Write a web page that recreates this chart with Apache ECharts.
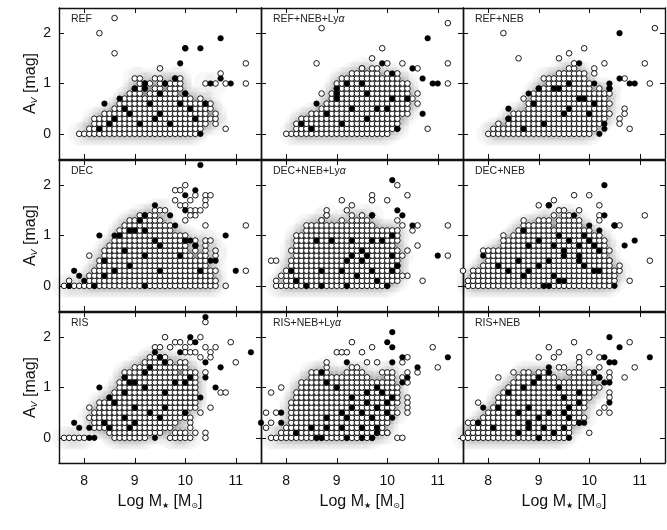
<!DOCTYPE html>
<html>
<head>
<meta charset="utf-8">
<script src="https://cdn.jsdelivr.net/npm/echarts@6/dist/echarts.min.js"></script>
<style>
  html, body { margin: 0; padding: 0; background: #fff; }
  #chartmain { width: 667px; height: 530px; }
</style>
</head>
<body>
<div id="chartmain"></div>
<script>
// tick labels
var massTicks = [8, 9, 10, 11];
var avTicks = [0, 1, 2];
var panelNames = ['REF', 'REF+NEB+Ly{a|α}', 'REF+NEB', 'DEC', 'DEC+NEB+Ly{a|α}', 'DEC+NEB', 'RIS', 'RIS+NEB+Ly{a|α}', 'RIS+NEB'];

// values are in tenths: mass*10, Av*10
// dense rows: first value = Av, then the masses on that row (open circles)
var refRows = [
  [0,79,80,81,82,83,84,85,86,87,88,89,90,91,92,93,94,95,96,97,98,99,100,101,102],
  [1,81,82,83,84,85,86,87,88,89,90,91,92,93,94,95,96,97,98,99,100,101,102,103],
  [2,82,83,84,85,86,87,88,89,90,91,92,93,94,95,96,97,98,99,100,101,102,103,104,106],
  [3,82,83,84,85,86,87,88,89,90,91,92,93,94,95,96,97,98,99,100,101,102,103,104,105,106],
  [4,84,85,86,87,88,89,90,91,92,93,94,95,96,97,98,99,100,101,102,103,104,106],
  [5,86,87,88,89,90,91,92,93,94,95,96,97,98,99,100,101,102,103,104,105],
  [6,87,88,89,90,91,92,93,94,95,96,97,98,99,100,101,102,103,104,105],
  [7,88,89,90,91,92,93,94,95,96,97,98,99,100,101,103],
  [8,89,90,91,93,94,95,96,97,98,100],
  [9,90,91,92,94,95,97,98,99],
  [10,91,92,93,95,96,97,98,99,104,106],
  [11,90,91,94,95,98,99]
];
var refOpen = [[86,23],[83,20],[86,16],[100,17],[95,13],[107,12],[112,14],[112,10],[108,10],[108,1]];
var refFilled = [[84,6],[100,17],[103,17],[107,19],[99,14],[83,1],[85,2],[86,3],[88,5],[90,9],[92,10],[93,6],[94,3],[95,4],[96,10],
  [98,11],[100,8],[101,5],[103,0],[104,6],[105,10],[107,11],[109,10],[97,2],[91,2],[89,4],[102,3],[99,6],[87,7],[92,9],[95,8]];

var refLyaRows = [
  [0,81,82,83,84,85,86,87,88,89,90,91,92,93,94,95,96,97,98,99,100],
  [1,82,83,84,85,86,87,88,89,90,91,92,93,94,95,96,97,98,99,100,101,102],
  [2,82,83,84,85,86,87,88,89,90,91,92,93,94,95,96,97,98,99,100,101,102],
  [3,83,84,85,86,87,88,89,90,91,92,93,94,95,96,97,98,99,100,101,102],
  [4,85,86,87,88,89,90,91,92,93,94,95,96,97,98,99,100,101,102,103,104],
  [5,87,88,89,90,91,92,93,94,95,96,97,98,99,100,101,102,103,104],
  [6,88,89,90,91,92,93,94,95,96,97,98,99,100,101,102,103,104],
  [7,89,90,91,92,93,94,95,96,97,98,99,100,101,102,103,104,105],
  [8,89,90,91,92,93,94,95,96,97,98,99,100,101,102,103,104],
  [9,90,91,92,93,94,95,96,97,98,99,100,101,102,103,104],
  [10,90,91,92,93,94,95,96,97,98,99,100,101,102,103,104],
  [11,91,92,93,94,95,96,97,98,99,100,101,102],
  [12,93,94,95,96,97,98,100,102],
  [13,95,97]
];
var refLyaOpen = [[87,21],[112,22],[99,17],[97,15],[86,14],[100,14],[103,14],[112,14],[95,13],[98,13],[106,13],[112,10],
  [87,8],[106,8],[106,6],[108,1],[80,0]];
var refLyaFilled = [[108,19],[99,14],[105,13],[107,11],[109,10],[110,10],[90,9],[90,8],[86,6],[88,4],[85,1],[83,2],[90,7],[95,10],
  [96,8],[101,7],[104,7],[100,5],[98,5],[93,5],[96,3],[102,1],[91,2],[101,12],[107,4],[92,10]];

var refNebRows = [
  [0,80,81,82,83,84,85,86,87,88,89,90,91,92,93,94,95,96,97,98,99,100],
  [1,81,82,83,84,85,86,87,88,89,90,91,92,93,94,95,96,97,98,99,100,101],
  [2,84,85,86,87,88,89,90,91,92,93,94,95,96,97,98,99,100,101,102],
  [3,84,85,86,87,88,89,90,91,92,93,94,95,96,97,98,99,100,101,102,103],
  [4,85,86,87,88,89,90,91,92,93,94,95,96,97,98,99,100,101,102,103,104],
  [5,88,89,90,91,92,93,94,95,96,97,98,99,100,101,102,103],
  [6,88,89,90,91,92,93,94,95,96,97,98,99,100,101,102,103,104],
  [7,89,90,91,92,93,94,95,96,97,98,99,100,101,102,103],
  [8,89,90,91,92,93,94,95,96,97,98,99,100,101,102,103,104],
  [9,90,91,92,93,94,95,96,97,98,99,100,102,104],
  [10,92,93,94,95,96,97,98,99,100],
  [11,91,92,93,94,95,96,97,98,99],
  [12,94,95,96,97,98,99],
  [13,96,97]
];
var refNebOpen = [[83,20],[113,21],[86,15],[96,16],[99,17],[94,15],[97,14],[103,14],[111,14],[101,13],[101,12],[107,11],[112,10],
  [87,7],[107,5],[107,4],[106,3],[106,2],[108,1],[82,2]];
var refNebFilled = [[106,20],[98,14],[106,11],[108,10],[109,10],[101,10],[104,10],[84,5],[90,9],[93,9],[94,9],[96,5],[89,6],[98,7],
  [99,7],[101,6],[104,9],[103,2],[102,0],[103,1],[91,2],[87,1],[95,4],[100,4],[84,3],[88,8],[96,10]];

var decRows = [
  [0,76,77,78,79,80,81,82,83,84,85,86,87,88,89,90,91,92,93,94,95,96,97,98,99,100,101,102,103,104,105,106],
  [1,81,82,83,84,85,86,87,88,89,90,91,92,93,94,95,96,97,98,99,100,101,102,103,104,105,106],
  [2,81,82,83,84,85,86,87,88,89,90,91,92,93,94,95,96,97,98,99,100,101,102,103,104,105],
  [3,82,83,84,85,86,87,88,89,90,91,92,93,94,95,96,97,98,99,100,101,102,103,104,105,106],
  [4,83,84,85,86,87,88,89,90,91,92,93,94,95,96,97,98,99,100,101,102,103,104],
  [5,83,84,85,86,87,88,89,90,91,92,93,94,95,96,97,98,99,100,101,102,103,104],
  [6,84,85,86,87,88,89,90,91,92,93,94,95,96,97,98,99,100,101,103,104,106],
  [7,84,85,86,87,88,89,90,91,92,93,94,95,96,97,98,99,100,102,104,106],
  [8,85,86,87,88,89,90,91,92,93,94,95,96,97,98,99,100,102,104],
  [9,86,87,88,89,90,91,92,93,94,95,96,97,98,99,100,102,104,105],
  [10,87,88,89,90,91,92,93,94,95,96,97,98,99,100],
  [11,87,88,89,90,91,92,93,94,95,96,97],
  [12,88,89,90,91,92,93,94,95,96,97],
  [13,89,90,91,92,93,94,95],
  [14,91,92,93,94],
  [15,94,95,96]
];
var decOpen = [[100,20],[98,19],[99,19],[102,18],[104,18],[105,18],[98,17],[101,17],[104,17],[99,16],[100,16],[104,16],[102,15],
  [101,15],[103,15],[102,14],[101,14],[100,13],[104,12],[112,12],[112,3],[81,6],[77,1],[108,0]];
var decFilled = [[103,24],[102,19],[100,18],[94,16],[100,15],[108,10],[110,3],[83,10],[78,3],[79,2],[92,14],[91,13],[89,11],[90,11],
  [92,11],[86,10],[87,10],[94,9],[95,8],[88,7],[92,6],[84,5],[89,4],[86,3],[95,3],[84,2],[92,0],[97,14],[98,12],[100,9],[101,9],
  [102,8],[99,6],[105,5],[106,5],[103,3],[80,1],[82,0],[77,0]];

var decLyaRows = [
  [0,78,79,80,81,82,83,84,85,86,87,88,89,90,91,92,93,94,95,96,97,98,99,100],
  [1,80,81,82,83,84,85,86,87,88,89,90,91,92,93,94,95,96,97,98,99,100,101,102],
  [2,80,81,82,83,84,85,86,87,88,89,90,91,92,93,94,95,96,97,98,99,100,101,102],
  [3,80,81,82,83,84,85,86,87,88,89,90,91,92,93,94,95,96,97,98,99,100,101,102],
  [4,81,82,83,84,85,86,87,88,89,90,91,92,93,94,95,96,97,98,99,100,101,102],
  [5,81,82,83,84,85,86,87,88,89,90,91,92,93,94,95,96,97,98,99,100,101,102],
  [6,82,83,84,85,86,87,88,89,90,91,92,93,94,95,96,97,98,99,100,101,102,103],
  [7,81,82,83,84,85,86,87,88,89,90,91,92,93,94,95,96,97,98,99,100,101,102],
  [8,82,83,84,85,86,87,88,89,90,91,92,93,94,95,96,97,98,99,100,101],
  [9,82,83,84,85,86,87,88,89,90,91,92,93,94,95,96,97,98,99,100,101,102],
  [10,82,83,84,85,86,87,88,89,90,91,92,93,94,95,96,97,98,99,100,101,102],
  [11,84,85,86,87,88,89,90,91,92,93,94,95,96,97,98,99,100,101,102],
  [12,84,85,86,87,88,89,90,91,92,93,94,95,96,97],
  [13,87,91,93,94,95,96],
  [14,88,93,95,97]
];
var decLyaOpen = [[102,20],[104,18],[97,18],[97,17],[100,17],[91,17],[93,16],[92,15],[88,15],[88,14],[87,13],[102,13],[103,12],
  [106,12],[105,11],[112,12],[106,8],[112,6],[104,7],[77,5],[78,5],[79,2],[78,1],[107,1],[104,2],[103,2],[102,4]];
var decLyaFilled = [[101,21],[102,15],[97,14],[103,14],[105,12],[110,6],[86,9],[89,9],[93,9],[97,9],[99,9],[101,10],[95,7],[96,6],
  [93,6],[92,5],[95,5],[101,6],[101,3],[81,3],[87,3],[91,3],[97,3],[84,0],[87,0],[92,0],[100,0],[94,2],[98,1],[82,1],[102,4]];

var decNebRows = [
  [0,76,77,78,79,80,81,82,83,84,85,86,87,88,89,90,91,92,93,94,95,96,97,98,99,100,101,102,103,104],
  [1,76,77,78,79,80,81,82,83,84,85,86,87,88,89,90,91,92,93,94,95,96,97,98,99,100,101,102,103,104,105],
  [2,77,78,79,80,81,82,83,84,85,86,87,88,89,90,91,92,93,94,95,96,97,98,99,100,101,102,103,104,105],
  [3,78,79,80,81,82,83,84,85,86,87,88,89,90,91,92,93,94,95,96,97,98,99,100,101,102,103,104,105,106],
  [4,79,80,81,82,83,84,85,86,87,88,89,90,91,92,93,94,95,96,97,98,99,100,101,102,103,104],
  [5,80,81,82,83,84,85,86,87,88,89,90,91,92,93,94,95,96,97,98,99,100,101,102,103,104],
  [6,80,81,82,83,84,85,86,87,88,89,90,91,92,93,94,95,96,97,98,99,100,101,102,103],
  [7,81,82,83,84,85,86,87,88,89,90,91,92,93,94,95,96,97,98,99,100,101,102,103,104],
  [8,83,84,85,86,87,88,89,90,91,92,93,94,95,96,97,98,99,100,101,102,103],
  [9,84,85,86,87,88,89,90,91,92,93,94,95,96,97,98,99,100,101,102,103],
  [10,85,86,87,88,89,90,91,92,93,94,95,96,97,98,99,100,101,102],
  [11,86,87,88,89,90,91,92,93,94,95,96,97,98,99,100],
  [12,87,88,89,90,91,92,94,95,96,97,98],
  [13,90,91,92,94,95,96,97,98],
  [14,93,95,96]
];
var decNebOpen = [[97,18],[100,18],[93,17],[90,16],[92,16],[102,16],[94,15],[95,15],[98,15],[102,14],[102,13],[87,13],[111,14],
  [105,12],[106,12],[83,10],[83,9],[112,5],[104,5],[106,4],[108,1],[75,3],[77,3],[77,2],[79,7],[80,7]];
var decNebFilled = [[103,20],[92,16],[97,14],[103,14],[100,12],[105,12],[102,11],[107,8],[109,9],[105,0],[79,6],[93,2],[94,1],[95,1],
  [91,0],[92,0],[87,2],[88,3],[84,3],[82,4],[86,5],[90,4],[92,5],[95,6],[98,5],[98,6],[99,4],[101,3],[102,3],[93,8],[95,7],[88,8],
  [87,11],[90,9],[94,10],[96,9],[100,9],[101,8],[102,7],[98,8],[99,10]];

var risRows = [
  [0,76,77,78,79,80,86,87,88,89,90,91,92,97,98,99,100,101],
  [1,85,86,87,88,89,90,91,92,93,94,95,98,99,100],
  [2,82,83,84,85,86,87,88,89,90,91,92,93,94,95,96,97],
  [3,82,83,84,85,86,87,88,89,90,91,92,93,94,95,96,97,98],
  [4,81,82,83,84,85,86,87,88,89,90,91,92,93,94,95,96,97,98,99,100],
  [5,82,83,84,85,86,87,88,89,90,91,92,93,94,95,96,97,98,99,100],
  [6,83,84,85,86,87,88,89,90,91,92,93,94,95,96,97,98,99,100,101,102],
  [7,83,84,85,86,87,88,89,90,91,92,93,94,95,96,97,98,99,100,101,102],
  [8,85,86,87,88,89,90,91,92,93,94,95,96,97,98,99,100,101,102],
  [9,86,87,88,89,90,91,92,93,94,95,96,97,98,99,100,101,102],
  [10,87,88,89,90,91,92,93,94,95,96,97,98,99,100,101,102],
  [11,87,88,89,90,91,92,93,94,95,96,97,98,99,100,101,102],
  [12,88,89,90,91,92,93,94,95,96,97,98,99,100,101,102],
  [13,88,89,90,91,92,93,94,95,96,97,98,100,101,102],
  [14,90,91,92,93,94,95,96,97,98,99,100],
  [15,92,93,94,95,96,97,99,100],
  [16,93,94,95,96]
];
var risOpen = [[104,23],[96,20],[103,20],[98,19],[99,19],[101,19],[94,18],[95,18],[97,18],[100,18],[104,18],[106,18],[109,19],
  [100,17],[101,17],[102,17],[105,17],[103,16],[105,16],[110,15],[104,13],[107,9],[108,9],[105,6],[103,5],[101,4],[101,3],
  [101,2],[102,1],[104,1],[104,0],[81,6]];
var risFilled = [[104,24],[101,20],[102,19],[113,17],[107,14],[94,17],[99,17],[104,15],[104,12],[106,10],[88,12],[89,11],[90,11],
  [92,13],[93,14],[95,16],[96,15],[92,10],[96,9],[88,9],[85,8],[86,7],[90,6],[93,5],[88,4],[90,3],[84,3],[85,2],[89,2],[94,0],
  [96,6],[98,11],[100,11],[101,12],[103,8],[100,5],[95,4],[83,10],[78,3],[79,2],[81,2],[81,0],[82,0]];

var risLyaRows = [
  [0,77,78,79,80,81,82,83,84,85,86,87,88,89,90,91,92,93,94,95,96,97],
  [1,79,80,81,82,83,84,85,86,87,88,89,90,91,92,93,94,95,96,97,98,99,100],
  [2,80,81,82,83,84,85,86,87,88,89,90,91,92,93,94,95,96,97,98,99],
  [3,81,82,83,84,85,86,87,88,89,90,91,92,93,94,95,96,97,98,99,100],
  [4,81,82,83,84,85,86,87,88,89,90,91,92,93,94,95,96,97,98,99,100],
  [5,81,82,83,84,85,86,87,88,89,90,91,92,93,94,95,96,97,98,99,100,101,102],
  [6,81,82,83,84,85,86,87,88,89,90,91,92,93,94,95,96,97,98,99,100,101],
  [7,81,82,83,84,85,86,87,88,89,90,91,92,93,94,95,96,97,98,99,100,101,102],
  [8,82,83,84,85,86,87,88,89,90,91,92,93,94,95,96,97,98,99,100,101,102],
  [9,82,83,84,85,86,87,88,89,90,91,92,93,94,95,96,97,98,99,100,101,102],
  [10,83,84,85,86,87,88,89,90,91,92,93,94,95,96,97,98,99,100,101,102],
  [11,83,84,85,86,87,88,89,90,91,92,93,94,95,96,97,98,99,100,101],
  [12,85,86,87,88,89,90,91,92,93,94,95,96,100,101],
  [13,85,86,87,88,92,93,94,95,99,100,101],
  [14,88]
];
var risLyaOpen = [[97,18],[93,19],[109,18],[110,14],[106,13],[104,16],[103,15],[90,17],[91,17],[92,17],[95,17],[96,15],[98,15],
  [93,14],[94,14],[88,15],[104,13],[103,12],[104,11],[77,9],[79,10],[76,5],[78,5],[77,3],[76,2],[104,8],[104,6],[104,7],
  [104,5],[102,0],[103,0],[100,1]];
var risLyaFilled = [[101,21],[100,19],[101,18],[112,16],[106,14],[103,16],[101,15],[92,15],[104,12],[103,11],[87,13],[88,11],[90,10],
  [93,8],[96,9],[98,10],[99,9],[101,8],[100,7],[96,7],[93,6],[98,6],[91,5],[95,5],[100,5],[88,4],[92,4],[97,4],[101,4],[85,2],
  [88,2],[91,2],[95,2],[98,2],[82,1],[86,0],[87,0],[92,0],[95,0],[98,1],[97,0],[75,3],[79,3],[79,5]];

var risNebRows = [
  [0,75,76,77,78,79,80,81,82,83,84,85,86,87,88,89,90,91,92,93,94,95],
  [1,76,77,78,79,80,81,82,83,84,85,86,87,88,89,90,91,92,93,94,95,96],
  [2,77,78,79,80,81,82,83,84,85,86,87,88,89,90,91,92,93,94,95,96],
  [3,78,79,80,81,82,83,84,85,86,87,88,89,90,91,92,93,94,95,96,97,98],
  [4,79,80,81,82,83,84,85,86,87,88,89,90,91,92,93,94,95,96,97,98,99],
  [5,80,81,82,83,84,85,86,87,88,89,90,91,92,93,94,95,96,97,98],
  [6,81,82,83,84,85,86,87,88,89,90,91,92,93,94,95,96,97,98,99],
  [7,82,83,84,85,86,87,88,89,90,91,92,93,94,95,96,97,98,99],
  [8,82,83,84,85,86,87,88,89,90,91,92,93,94,95,96,97,98,99,100],
  [9,83,84,85,86,87,88,89,90,91,92,93,94,95,96,97,98,99,100,101],
  [10,84,85,86,87,88,89,90,91,92,93,94,95,96,97,98,99,100,101,102],
  [11,85,86,87,88,89,90,91,92,93,94,95,96,97,98,99,100],
  [12,86,87,88,89,90,91,92,93,97,98,99,100,101,102],
  [13,87,88,90,91,92,96,97,98]
];
var risNebOpen = [[108,19],[97,19],[92,18],[100,17],[94,17],[93,16],[90,16],[98,16],[98,15],[98,14],[95,14],[94,14],[102,16],
  [102,14],[109,14],[107,12],[85,13],[82,12],[100,13],[101,12],[104,13],[104,12],[104,9],[104,8],[103,6],[104,5],[102,5],
  [78,7],[76,3],[77,3],[100,1]];
var risNebFilled = [[104,20],[106,18],[112,16],[103,16],[104,15],[105,15],[101,13],[102,12],[104,11],[103,11],[104,7],[84,9],[87,10],
  [89,11],[90,12],[92,14],[92,13],[94,10],[98,9],[95,8],[98,7],[96,6],[92,5],[96,4],[90,4],[88,3],[88,2],[91,2],[95,2],[86,1],
  [90,0],[93,1],[98,3],[99,3],[82,6],[88,6],[86,5],[95,5],[81,2],[78,3],[79,6],[96,0]];

var panelRows = [refRows, refLyaRows, refNebRows, decRows, decLyaRows, decNebRows, risRows, risLyaRows, risNebRows];
var panelOpen = [refOpen, refLyaOpen, refNebOpen, decOpen, decLyaOpen, decNebOpen, risOpen, risLyaOpen, risNebOpen];
var panelFilled = [refFilled, refLyaFilled, refNebFilled, decFilled, decLyaFilled, decNebFilled, risFilled, risLyaFilled, risNebFilled];

function rowsToPoints(rows) {
  var pts = [];
  rows.forEach(function (r) {
    for (var i = 1; i < r.length; i++) pts.push([r[i] / 10, r[0] / 10]);
  });
  return pts;
}
function pairs(list) {
  return list.map(function (p) { return [p[0] / 10, p[1] / 10]; });
}

var FONT = '"Liberation Sans", Arial, sans-serif';
var X0 = 59, Y0 = 8, PW = 202, PH = 152;
var grids = [], xAxes = [], yAxes = [], series = [], texts = [];
var frame = { onZero: false, lineStyle: { color: '#111', width: 1.4 } };

for (var r = 0; r < 3; r++) {
  for (var c = 0; c < 3; c++) {
    var k = r * 3 + c;
    grids.push({ left: X0 + c * PW, top: Y0 + r * PH, width: PW, height: PH - 1 });

    ['bottom', 'top'].forEach(function (pos) {
      var isLabel = pos === 'bottom' && r === 2;
      xAxes.push({
        gridIndex: k, type: 'value', position: pos, min: 7.5, max: 11.5,
        axisLine: frame, splitLine: { show: false },
        axisTick: { inside: true, length: 5, customValues: massTicks, lineStyle: { color: '#111', width: 1 } },
        axisLabel: { show: isLabel, customValues: massTicks, fontSize: 14, margin: 11, color: '#111', fontFamily: FONT },
        name: isLabel ? 'Log M{s|★} [M{s|⊙}]' : '',
        nameLocation: 'middle', nameGap: 31,
        nameTextStyle: { fontSize: 16, color: '#111', fontFamily: FONT,
          rich: { s: { fontSize: 8, verticalAlign: 'bottom', padding: [7, 0, 0, 0], fontFamily: '"DejaVu Sans", sans-serif', color: '#111' } } }
      });
    });
    ['left', 'right'].forEach(function (pos) {
      var isLabel = pos === 'left' && c === 0;
      yAxes.push({
        gridIndex: k, type: 'value', position: pos, min: -0.5, max: 2.5,
        axisLine: frame, splitLine: { show: false },
        axisTick: { inside: true, length: 5, customValues: avTicks, lineStyle: { color: '#111', width: 1 } },
        axisLabel: { show: isLabel, customValues: avTicks, fontSize: 14, margin: 8, color: '#111', fontFamily: FONT },
        name: isLabel ? 'A{s|V} [mag]' : '',
        nameLocation: 'middle', nameGap: 20,
        nameTextStyle: { fontSize: 16, color: '#111', fontFamily: FONT,
          rich: { s: { fontSize: 9, fontStyle: 'italic', verticalAlign: 'bottom', padding: [7, 0, 0, 0], fontFamily: FONT, color: '#111' } } }
      });
    });

    var dense = rowsToPoints(panelRows[k]);
    var open = dense.concat(pairs(panelOpen[k]));
    var filled = pairs(panelFilled[k]);

    // soft grey density halo under the dense part only
    series.push({
      type: 'scatter', xAxisIndex: 2 * k, yAxisIndex: 2 * k, silent: true,
      data: dense, symbolSize: 24,
      itemStyle: { color: 'rgba(0,0,0,0.035)', borderWidth: 0 }, z: 1
    });
    series.push({
      type: 'scatter', xAxisIndex: 2 * k, yAxisIndex: 2 * k, silent: true,
      data: open, symbolSize: 5.6,
      itemStyle: { color: '#fff', borderColor: '#000', borderWidth: 0.9, opacity: 1 }, z: 3
    });
    series.push({
      type: 'scatter', xAxisIndex: 2 * k, yAxisIndex: 2 * k, silent: true,
      data: filled, symbolSize: 5.6,
      itemStyle: { color: '#000', borderColor: '#000', borderWidth: 0.5, opacity: 1 }, z: 4
    });

    texts.push({
      type: 'text', left: X0 + c * PW + 12, top: Y0 + r * PH + 6, z: 10,
      style: { text: panelNames[k], fontSize: 10.5, fontFamily: FONT, fill: '#222',
        rich: { a: { fontSize: 10.5, fontStyle: 'italic', fontFamily: FONT, fill: '#222' } } }
    });
  }
}

var option = {
  animation: false,
  backgroundColor: '#fff',
  grid: grids,
  xAxis: xAxes,
  yAxis: yAxes,
  series: series,
  graphic: texts
};

var myChart = echarts.init(document.getElementById('chartmain'));
myChart.setOption(option);
</script>
</body>
</html>
